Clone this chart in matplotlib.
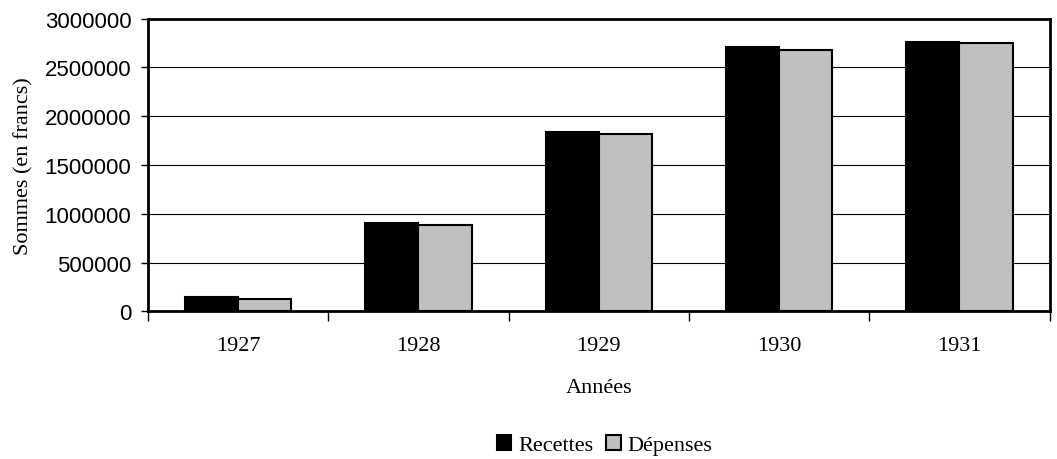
import numpy as np
import matplotlib
matplotlib.use("Agg")
import matplotlib.pyplot as plt

# Données
annees = ["1927", "1928", "1929", "1930", "1931"]
recettes = [143000, 905000, 1834000, 2705000, 2762000]
depenses = [126000, 884000, 1817000, 2680000, 2745000]
yticks = [0, 500000, 1000000, 1500000, 2000000, 2500000, 3000000]

serif = "Liberation Serif"
sans = "Liberation Sans"

fig = plt.figure(figsize=(10.57, 4.60), dpi=100)
ax = fig.add_axes([0.1400, 0.3210, 0.8530, 0.6366])

x = np.arange(len(annees))
w = 0.295
ax.bar(x - w / 2, recettes, width=w, color="black", edgecolor="black",
       linewidth=1.5, label="Recettes", zorder=3)
ax.bar(x + w / 2, depenses, width=w, color="#c0c0c0", edgecolor="black",
       linewidth=1.5, label="Dépenses", zorder=3)

ax.set_xlim(-0.5, len(annees) - 0.5)
ax.set_ylim(0, 3000000)
ax.set_yticks(yticks)
ax.set_yticklabels([str(v) for v in yticks], fontfamily=sans, fontsize=16)
ax.yaxis.grid(True, color="black", linewidth=0.8, zorder=0)

# ticks majeurs aux limites des catégories, libellés au centre
ax.set_xticks(np.arange(len(annees) + 1) - 0.5)
ax.set_xticklabels([])
ax.set_xticks(x, minor=True)
ax.set_xticklabels(annees, minor=True, fontfamily=serif, fontsize=16)
ax.tick_params(axis="x", which="minor", length=0, pad=18)
ax.tick_params(axis="x", which="major", length=7, width=1, direction="out")
ax.tick_params(axis="y", length=5, width=1, direction="out", pad=7)

for s in ax.spines.values():
    s.set_linewidth(2)
    s.set_color("black")

ax.set_xlabel("Années", fontfamily=serif, fontsize=16, labelpad=16)
ax.set_ylabel("Sommes (en francs)", fontfamily=serif, fontsize=16, labelpad=8)

fig.legend(loc="lower center", bbox_to_anchor=(0.572, -0.035), ncol=2,
           frameon=False, prop={"family": serif, "size": 16},
           handlelength=0.65, handleheight=0.65, handletextpad=0.3,
           columnspacing=0.6)

fig.savefig("out.png", dpi=100)
